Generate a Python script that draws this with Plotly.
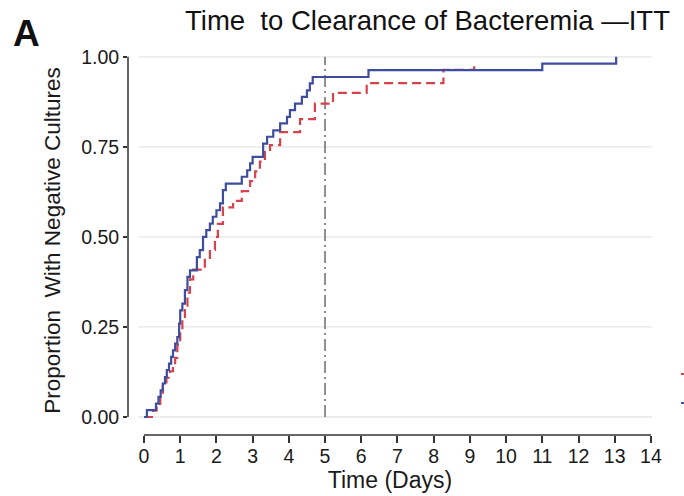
import plotly.graph_objects as go

# Cumulative proportion with negative cultures at each event time (days)
blue_days = [0.08, 0.33, 0.40, 0.46, 0.52, 0.58, 0.63, 0.69, 0.75, 0.80, 0.86,
             0.92, 0.97, 1.00, 1.06, 1.13, 1.20, 1.27, 1.46, 1.54, 1.63, 1.72,
             1.82, 1.90, 2.00, 2.10, 2.18, 2.26, 2.70, 2.85, 2.93, 3.00, 3.29,
             3.40, 3.57, 3.76, 3.95, 4.03, 4.17, 4.36, 4.50, 4.58, 4.66, 6.20,
             11.00, 13.04]
blue_prop = [0.019, 0.037, 0.056, 0.074, 0.093, 0.111, 0.130, 0.148, 0.167,
             0.185, 0.204, 0.222, 0.259, 0.296, 0.315, 0.352, 0.389, 0.407,
             0.444, 0.463, 0.500, 0.519, 0.537, 0.556, 0.574, 0.593, 0.630,
             0.648, 0.667, 0.685, 0.704, 0.722, 0.759, 0.778, 0.796, 0.815,
             0.833, 0.852, 0.870, 0.889, 0.907, 0.926, 0.944, 0.963, 0.981,
             1.000]

red_days = [0.25, 0.35, 0.45, 0.52, 0.62, 0.72, 0.80, 0.86, 0.92, 1.00, 1.06,
            1.13, 1.20, 1.27, 1.36, 1.68, 1.82, 1.96, 2.04, 2.18, 2.46, 2.70,
            2.93, 3.07, 3.20, 3.34, 3.48, 3.76, 4.31, 4.72, 5.22, 6.15, 8.27,
            9.12]
red_prop = [0.018, 0.036, 0.055, 0.091, 0.109, 0.127, 0.145, 0.164, 0.200,
            0.236, 0.273, 0.309, 0.345, 0.382, 0.409, 0.436, 0.464, 0.500,
            0.536, 0.582, 0.600, 0.627, 0.655, 0.682, 0.709, 0.736, 0.755,
            0.791, 0.827, 0.870, 0.900, 0.927, 0.964, 0.984]

cutoff_day = 5
x_ticks = list(range(0, 15))
y_ticks = [0, 0.25, 0.5, 0.75, 1.0]
y_tick_text = ["0.00", "0.25", "0.50", "0.75", "1.00"]

BLUE = "#3f4d9f"
RED = "#d6424b"
AXIS = "#333333"
TEXT = "#1a1a1a"
FONT = "Liberation Sans, Arial, sans-serif"

W, H = 684, 496
ML, MR, MT, MB = 128, 32, 46, 61
PW, PH = W - ML - MR, H - MT - MB


def px_x(px):
    return (px - ML) / PW


def px_y(py):
    return (H - MB - py) / PH


fig = go.Figure()
fig.add_trace(go.Scatter(
    x=[0] + red_days, y=[0] + red_prop, mode="lines",
    line=dict(color=RED, width=2.2, dash="9px,5px", shape="hv"),
    showlegend=False, hoverinfo="skip"))
fig.add_trace(go.Scatter(
    x=[0] + blue_days, y=[0] + blue_prop, mode="lines",
    line=dict(color=BLUE, width=2.2, shape="hv"),
    showlegend=False, hoverinfo="skip"))

shapes = []
# light horizontal guides, starting just right of the y-axis line
for v in y_ticks:
    shapes.append(dict(type="line", xref="paper", yref="y", x0=0.02, x1=1,
                       y0=v, y1=v, line=dict(color="#e6e6e6", width=1.3),
                       layer="below"))
# day-5 reference line
shapes.append(dict(type="line", xref="x", yref="y", x0=cutoff_day,
                   x1=cutoff_day, y0=0, y1=1,
                   line=dict(color="#8e8e8e", width=2, dash="12px,4px,2px,4px"),
                   layer="below"))
# axis lines that stop at the first and last ticks
shapes.append(dict(type="line", xref="x", yref="paper", x0=x_ticks[0],
                   x1=x_ticks[-1], y0=0, y1=0,
                   line=dict(color=AXIS, width=1.5)))
shapes.append(dict(type="line", xref="paper", yref="y", x0=0, x1=0,
                   y0=y_ticks[0], y1=y_ticks[-1],
                   line=dict(color=AXIS, width=1.5)))
# legend keys peeking in at the right edge
shapes.append(dict(type="line", xref="paper", yref="paper", x0=px_x(681),
                   x1=px_x(686), y0=px_y(374), y1=px_y(374),
                   line=dict(color=RED, width=2)))
shapes.append(dict(type="line", xref="paper", yref="paper", x0=px_x(681),
                   x1=px_x(686), y0=px_y(403), y1=px_y(403),
                   line=dict(color=BLUE, width=2)))

annotations = [
    dict(text="<b>A</b>", xref="paper", yref="paper", x=px_x(11),
         y=px_y(33), xanchor="left", yanchor="middle", showarrow=False,
         font=dict(family=FONT, size=37, color="#111111")),
    dict(text="Time\u00a0 to Clearance of Bacteremia \u2014ITT", xref="paper",
         yref="paper", x=px_x(427), y=px_y(21), xanchor="center",
         yanchor="middle", showarrow=False,
         font=dict(family=FONT, size=27.5, color="#111111")),
]

fig.update_layout(
    width=W, height=H,
    margin=dict(l=ML, r=MR, t=MT, b=MB, autoexpand=False),
    paper_bgcolor="white", plot_bgcolor="white",
    font=dict(family=FONT, color=TEXT),
    shapes=shapes, annotations=annotations,
    xaxis=dict(range=[-0.442, 14.03], tickvals=x_ticks, ticks="outside",
               ticklen=7, tickwidth=1.5, tickcolor=AXIS, showline=False,
               showgrid=False, zeroline=False, ticklabelstandoff=-3,
               tickfont=dict(family=FONT, size=19.5, color=TEXT),
               title=dict(text="Time (Days)", standoff=4,
                          font=dict(family=FONT, size=23, color=TEXT))),
    yaxis=dict(range=[-0.05, 1.03], tickvals=y_ticks, ticktext=y_tick_text,
               ticks="outside", ticklen=4, tickwidth=1.5, tickcolor=AXIS,
               showline=False, showgrid=False, zeroline=False,
               tickfont=dict(family=FONT, size=19.5, color=TEXT),
               title=dict(text="Proportion\u00a0 With Negative Cultures",
                          standoff=14,
                          font=dict(family=FONT, size=22.5, color=TEXT))),
)

fig.write_html("out.html")
